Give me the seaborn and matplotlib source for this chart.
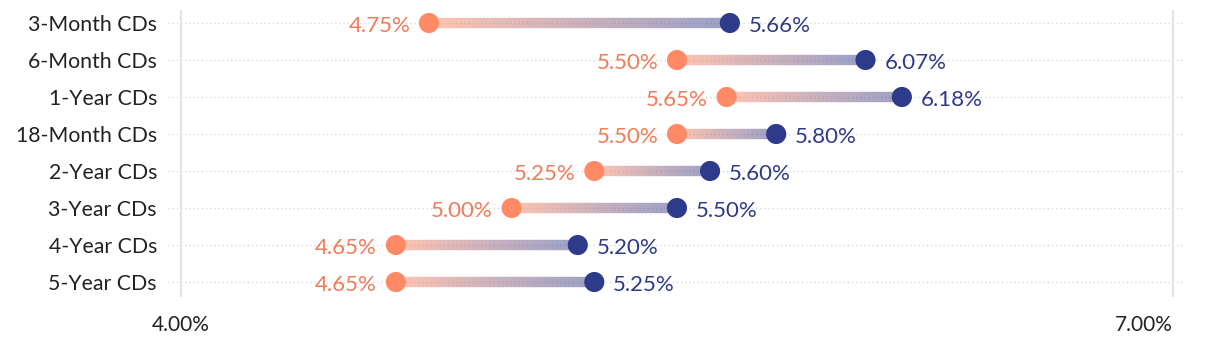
import numpy as np
import pandas as pd
import matplotlib
matplotlib.use("Agg")
import matplotlib.pyplot as plt
import seaborn as sns
from matplotlib.collections import LineCollection
from matplotlib.colors import to_rgba

# CD rate ranges (low / high, in percent)
terms = ["3-Month CDs", "6-Month CDs", "1-Year CDs", "18-Month CDs",
         "2-Year CDs", "3-Year CDs", "4-Year CDs", "5-Year CDs"]
low_rates = [4.75, 5.50, 5.65, 5.50, 5.25, 5.00, 4.65, 4.65]
high_rates = [5.66, 6.07, 6.18, 5.80, 5.60, 5.50, 5.20, 5.25]
tick_values = [4.0, 7.0]
tick_labels = ["4.00%", "7.00%"]

LOW_COLOR = "#ff8a65"
HIGH_COLOR = "#2e3a8a"
LOW_TEXT = "#f07b58"
HIGH_TEXT = "#2e3a87"

sns.set_theme(style="white")
plt.rcParams["font.family"] = ["Lato", "DejaVu Sans"]

df = pd.DataFrame({"term": terms, "low": low_rates, "high": high_rates})
df["row"] = np.arange(len(df))

fig = plt.figure(figsize=(12.2, 3.46), dpi=100)
ax = fig.add_axes([0.1377, 0.1416, 0.8336, 0.8295])

# dotted row guides
for r in df["row"]:
    ax.axhline(r, color="#d9d9d9", lw=1.0, ls=(0, (1, 2)), zorder=0)
# vertical reference lines at the tick positions
for t in tick_values:
    ax.axvline(t, color="#e3e3e3", lw=1.5, zorder=0)

# gradient connector from low to high
c0 = np.array(to_rgba(LOW_COLOR, 0.5))
c1 = np.array(to_rgba(HIGH_COLOR, 0.48))
n = 120
for _, rec in df.iterrows():
    xs = np.linspace(rec["low"], rec["high"], n + 1)
    segs = [[(xs[i], rec["row"]), (xs[i + 1], rec["row"])] for i in range(n)]
    fr = np.linspace(0, 1, n)[:, None]
    cols = c0 * (1 - fr) + c1 * fr
    lc = LineCollection(segs, colors=cols, linewidths=7.5, capstyle="butt", zorder=2)
    ax.add_collection(lc)

sns.scatterplot(data=df, x="low", y="row", color=LOW_COLOR, s=210,
                edgecolor="none", ax=ax, zorder=3, legend=False)
sns.scatterplot(data=df, x="high", y="row", color=HIGH_COLOR, s=210,
                edgecolor="none", ax=ax, zorder=3, legend=False)

for _, rec in df.iterrows():
    ax.annotate(f"{rec['low']:.2f}%", (rec["low"], rec["row"]), xytext=(-13.5, -2),
                textcoords="offset points", ha="right", va="center",
                color=LOW_TEXT, fontsize=16)
    ax.annotate(f"{rec['high']:.2f}%", (rec["high"], rec["row"]), xytext=(13.5, -2),
                textcoords="offset points", ha="left", va="center",
                color=HIGH_TEXT, fontsize=16)

ax.set_xlim(3.961, 7.036)
ax.set_ylim(7.405, -0.351)
ax.set_yticks(df["row"])
ax.set_yticklabels(terms, fontsize=15.3, color="#222222")
ax.set_xticks(tick_values)
ax.set_xticklabels(tick_labels, fontsize=15, color="#222222")
ax.get_xticklabels()[1].set_ha("right")
ax.tick_params(axis="x", length=0, pad=13)
ax.tick_params(axis="y", length=0, pad=8)
ax.set_xlabel("")
ax.set_ylabel("")
for sp in ax.spines.values():
    sp.set_visible(False)

fig.savefig("out.png", dpi=100)
